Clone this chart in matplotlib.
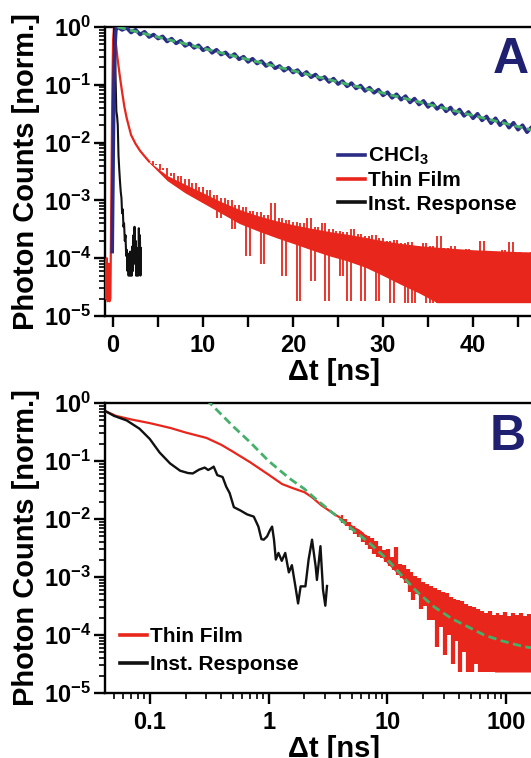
import numpy as np
import matplotlib
matplotlib.use("Agg")
import matplotlib.pyplot as plt
from matplotlib.lines import Line2D
from matplotlib.ticker import FixedLocator, LogLocator, NullFormatter, FuncFormatter

plt.rcParams.update({
    "font.family": ["Liberation Sans", "DejaVu Sans"],
    "font.weight": "bold",
    "mathtext.fontset": "custom",
    "mathtext.rm": "Liberation Sans:bold",
    "mathtext.it": "Liberation Sans:bold",
    "mathtext.bf": "Liberation Sans:bold",
    "mathtext.sf": "Liberation Sans:bold",
    "mathtext.default": "bf",
    "axes.linewidth": 1.7,
})

# ---------------- Panel A data (linear time axis, ns) ----------------
# CHCl3 solution: rise then noisy mono-exponential decay (0.5 ns sampling)
chcl3_rise_t = [-0.1, 0.0, 0.1, 0.2, 0.3, 0.4]
chcl3_rise_y = [1.3e-4, 5e-3, 0.1, 0.45, 0.85, 0.98]
chcl3_tail_t = np.arange(0.5, 50.01, 0.5)
chcl3_tail_y = [
    1.00, 0.89, 0.97, 0.80, 0.90, 0.74, 0.83, 0.67, 0.74, 0.63,
    0.69, 0.56, 0.63, 0.52, 0.58, 0.47, 0.52, 0.435, 0.484, 0.394,
    0.439, 0.357, 0.405, 0.333, 0.364, 0.302, 0.341, 0.276, 0.307, 0.249,
    0.283, 0.233, 0.257, 0.211, 0.239, 0.193, 0.212, 0.175, 0.198, 0.163,
    0.180, 0.146, 0.167, 0.135, 0.151, 0.123, 0.137, 0.112, 0.128, 0.103,
    0.116, 0.094, 0.107, 0.0865, 0.0972, 0.0783, 0.0894, 0.0727, 0.0825, 0.0655,
    0.0745, 0.0594, 0.0687, 0.0552, 0.0638, 0.0495, 0.0578, 0.0455, 0.0528, 0.0414,
    0.0480, 0.0382, 0.0444, 0.0347, 0.0405, 0.0313, 0.0374, 0.0290, 0.0339, 0.0263,
    0.0316, 0.0242, 0.0284, 0.0216, 0.0264, 0.0200, 0.0239, 0.0181, 0.0221, 0.0167,
    0.0200, 0.0151, 0.0185, 0.0141, 0.0169, 0.0127, 0.0153, 0.0116, 0.0141, 0.0108,
]
# mono-exponential fit (green dashed)
fitA_t = [0.5, 10, 20, 30, 40, 50]
fitA_y = [1.0, 0.428, 0.175, 0.072, 0.0295, 0.0121]

# Thin film: pre-rise background, rise and fast decay
filmA_head_t = [-0.9, -0.8, -0.7, -0.6, -0.5, -0.4, -0.3, -0.2, -0.1, 0.0, 0.1, 0.2,
                0.35, 0.5, 0.75, 1.0, 1.25, 1.5, 1.75, 2.0, 2.5, 3.0, 3.5, 4.0]
filmA_head_y = [9e-5, 2e-5, 1e-4, 1.8e-5, 8e-5, 1.8e-5, 2e-5, 1e-3, 0.05, 0.6, 1.0, 0.75,
                0.45, 0.28, 0.14, 0.075, 0.042, 0.027, 0.019, 0.0135, 0.0095, 0.0072, 0.0058, 0.0047]
# noisy tail (0.4 ns sampling)
filmA_tail_t = np.arange(4.0, 50.01, 0.4)
filmA_tail_y = [
    4.9e-3, 4.1e-3, 4.3e-3, 3.3e-3, 3.6e-3, 2.6e-3, 3.0e-3, 2.1e-3, 2.6e-3, 1.7e-3,
    2.3e-3, 1.4e-3, 2.0e-3, 1.1e-3, 1.7e-3, 9e-4, 1.5e-3, 8e-4, 1.25e-3, 5e-4,
    1.1e-3, 6.3e-4, 1.0e-3, 3.2e-4, 8.3e-4, 4.5e-4, 7.6e-4, 1.1e-4, 6.6e-4, 3.5e-4,
    6.3e-4, 8e-5, 5.6e-4, 2.8e-4, 9e-4, 2.5e-4, 5e-4, 5e-5, 4.5e-4, 2.2e-4,
    4.2e-4, 1.8e-5, 4e-4, 1.8e-4, 5e-4, 4e-5, 3.5e-4, 1.6e-4, 4e-4, 1.8e-5,
    3.2e-4, 1.4e-4, 3e-4, 5e-5, 2.8e-4, 1.8e-5, 3.2e-4, 1.1e-4, 2.6e-4, 1.8e-5,
    2.4e-4, 8e-5, 2.5e-4, 1.8e-5, 2.2e-4, 6.3e-5, 2e-4, 1.7e-5, 2.1e-4, 4e-5,
    1.8e-4, 1.7e-5, 1.9e-4, 1.7e-5, 1.65e-4, 3.2e-5, 1.8e-4, 1.7e-5, 1.6e-4, 1.7e-5,
    2.4e-4, 1.7e-5, 1.5e-4, 2.5e-5, 1.6e-4, 1.7e-5, 1.4e-4, 1.7e-5, 1.45e-4, 1.7e-5,
    1.3e-4, 1.7e-5, 2e-4, 1.7e-5, 1.3e-4, 1.7e-5, 1.26e-4, 1.7e-5, 1.4e-4, 1.7e-5,
    1.9e-4, 1.7e-5, 1.26e-4, 1.7e-5, 1.2e-4, 1.7e-5, 1.3e-4, 1.7e-5, 1.2e-4, 1.7e-5,
    1.26e-4, 1.7e-5, 1.18e-4, 1.7e-5, 1.26e-4, 1.7e-5,
]
# dense core of the noise band
filmA_core_t = [4, 6, 8, 10, 12, 14, 16, 18, 20, 22, 24, 26, 28, 30, 32, 34, 36, 40, 45, 50]
filmA_core_hi = [4.7e-3, 2.7e-3, 1.9e-3, 1.35e-3, 9.5e-4, 7.0e-4, 5.5e-4, 4.5e-4, 3.8e-4, 3.3e-4,
                 2.9e-4, 2.6e-4, 2.3e-4, 2.0e-4, 1.8e-4, 1.65e-4, 1.55e-4, 1.4e-4, 1.3e-4, 1.25e-4]
filmA_core_lo = [4.5e-3, 2.2e-3, 1.35e-3, 9e-4, 6.0e-4, 4.0e-4, 3.0e-4, 2.3e-4, 1.8e-4, 1.4e-4,
                 1.1e-4, 9e-5, 7e-5, 5e-5, 3.5e-5, 2.5e-5, 1.7e-5, 1.7e-5, 1.7e-5, 1.7e-5]

# Instrument response (panel A)
irfA_t = [-0.05, 0.05, 0.12, 0.2, 0.28, 0.36, 0.45, 0.52, 0.6, 0.68, 0.76, 0.85, 0.93, 1.0,
          1.08, 1.15, 1.22, 1.3, 1.38, 1.45, 1.52, 1.6, 1.66, 1.72, 1.78, 1.84, 1.9, 1.96,
          2.02, 2.08, 2.14, 2.2, 2.26, 2.32, 2.38, 2.44, 2.5, 2.56, 2.62, 2.68, 2.74, 2.8,
          2.86, 2.92, 2.98, 3.04, 3.1]
irfA_y = [1.5e-4, 0.05, 1.0, 0.45, 0.12, 0.035, 0.028, 0.02, 6e-3, 3.5e-3, 2.2e-3, 1.4e-3, 1.1e-3, 6e-4,
          7e-4, 3.5e-4, 4e-4, 2e-4, 2.5e-4, 1.1e-4, 1.4e-4, 6e-5, 1.2e-4, 5e-5, 1.0e-4, 5e-5, 1.3e-4, 5e-5,
          1.1e-4, 5e-5, 1.6e-4, 6e-5, 2.5e-4, 8e-5, 3.5e-4, 1.0e-4, 2e-4, 5e-5, 1.2e-4, 5e-5, 1.5e-4, 5e-5,
          3.3e-4, 6e-5, 2.5e-4, 5e-5, 1.5e-4]

# ---------------- Panel B data (log time axis, ns) ----------------
filmB_head_t = [0.042, 0.052, 0.07, 0.1, 0.15, 0.2, 0.3, 0.4, 0.5, 0.7, 1.0, 1.3, 1.6,
                2.0, 2.3, 2.8, 3.5, 4.0]
filmB_head_y = [0.73, 0.60, 0.52, 0.45, 0.37, 0.31, 0.25, 0.19, 0.145, 0.095, 0.058, 0.04, 0.034,
                0.029, 0.024, 0.017, 0.0125, 0.0105]
filmB_tail_t = np.geomspace(4.0, 170.0, 100)
filmB_tail_y = [
    1.15e-2, 8.7e-3, 1.0e-2, 7.6e-3, 8.9e-3, 6.5e-3, 7.6e-3, 5.5e-3, 6.8e-3, 4.8e-3,
    6.0e-3, 4.0e-3, 5.4e-3, 3.5e-3, 5.0e-3, 3.0e-3, 4.7e-3, 2.5e-3, 4.2e-3, 2.2e-3,
    3.4e-3, 2.1e-3, 2.9e-3, 1.8e-3, 3.0e-3, 1.55e-3, 2.2e-3, 1.3e-3, 3.3e-3, 1.1e-3,
    1.7e-3, 9.5e-4, 1.6e-3, 7.9e-4, 1.4e-3, 5.6e-4, 1.2e-3, 4.0e-4, 1.05e-3, 5.0e-4,
    9.5e-4, 2.8e-4, 8.3e-4, 3.2e-4, 7.6e-4, 1.8e-4, 6.9e-4, 1.8e-4, 6.5e-4, 6.3e-5,
    6.0e-4, 1.4e-4, 5.6e-4, 4.5e-5, 5.2e-4, 1.0e-4, 4.6e-4, 3.2e-5, 4.2e-4, 7.9e-5,
    4.0e-4, 2.3e-5, 3.8e-4, 5.0e-5, 3.4e-4, 2.3e-5, 3.2e-4, 2.3e-5, 3.1e-4, 3.2e-5,
    2.8e-4, 2.3e-5, 2.6e-4, 2.3e-5, 2.4e-4, 2.3e-5, 2.6e-4, 2.3e-5, 2.2e-4, 2.3e-5,
    2.4e-4, 2.3e-5, 2.2e-4, 2.3e-5, 2.5e-4, 2.3e-5, 2.1e-4, 2.3e-5, 2.4e-4, 2.3e-5,
    2.2e-4, 2.3e-5, 2.4e-4, 2.3e-5, 2.1e-4, 2.3e-5, 2.3e-4, 2.3e-5, 2.2e-4, 2.3e-5,
]
filmB_core_t = [4, 6, 8, 10, 13, 18, 25, 35, 50, 65, 80, 120, 170]
filmB_core_hi = [1.05e-2, 6.3e-3, 3.7e-3, 2.4e-3, 1.5e-3, 8.0e-4, 4.5e-4, 3.2e-4, 2.6e-4,
                 2.3e-4, 2.2e-4, 2.1e-4, 2.1e-4]
filmB_core_lo = [9.5e-3, 5.5e-3, 3.0e-3, 1.7e-3, 1.0e-3, 5.0e-4, 2.5e-4, 1.5e-4, 8e-5,
                 4e-5, 2.3e-5, 2.3e-5, 2.3e-5]
# multi-component fit (green dashed)
fitB_t = [0.3, 0.5, 0.7, 1.0, 1.5, 2.0, 2.5, 3.5, 5, 7, 10, 13, 17.8, 25, 35, 47, 65, 90, 140, 300]
fitB_y = [1.15, 0.40, 0.21, 0.10, 0.05, 0.033, 0.022, 0.0125, 6.8e-3, 3.9e-3, 2.0e-3, 1.1e-3,
          5.5e-4, 3.0e-4, 1.9e-4, 1.4e-4, 1.0e-4, 8e-5, 6.3e-5, 5e-5]
# Instrument response (panel B)
irfB_t = [0.042, 0.05, 0.064, 0.082, 0.1, 0.121, 0.148, 0.18, 0.21, 0.23, 0.26, 0.29, 0.31, 0.33,
          0.345, 0.37, 0.41, 0.44, 0.47, 0.51, 0.58, 0.66, 0.75, 0.82, 0.87, 0.91, 0.97, 1.03,
          1.07, 1.11, 1.15, 1.21, 1.29, 1.38, 1.48, 1.57, 1.68, 1.77, 1.86, 2.04, 2.17, 2.32,
          2.49, 2.55, 2.73, 2.87, 3.0, 3.1]
irfB_y = [0.73, 0.6, 0.5, 0.36, 0.24, 0.14, 0.091, 0.068, 0.062, 0.061, 0.071, 0.077, 0.07, 0.075,
          0.08, 0.057, 0.053, 0.036, 0.028, 0.016, 0.014, 0.012, 0.011, 0.0074, 0.0045, 0.0044, 0.005, 0.0065,
          0.0074, 0.0044, 0.002, 0.0026, 0.0019, 0.0026, 0.0012, 0.0016, 0.00069, 0.00035, 0.00069, 0.00069,
          0.002, 0.0044, 0.0015, 0.00089, 0.0034, 0.0006, 0.00032, 0.0007]

legendA_labels = ["CHCl$_3$", "Thin Film", "Inst. Response"]
legendB_labels = ["Thin Film", "Inst. Response"]
xlabel = "\u0394t [ns]"
ylabel = "Photon Counts [norm.]"

# ---------------- styling ----------------
BLUE = "#2b2c86"
RED = "#e8261c"
BLACK = "#111111"
GREEN = "#45b06a"
NAVY = "#1f2170"

W, H = 531, 758
fig = plt.figure(figsize=(W / 100, H / 100), dpi=100)
axA = fig.add_axes([105 / W, 1 - 316 / H, 458 / W, 289 / H])
axB = fig.add_axes([105 / W, 1 - 693 / H, 458 / W, 290 / H])


def sci(v, pos):
    e = int(round(np.log10(v)))
    return r"$\mathdefault{10^{%d}}$" % e


def noisy(ax, t, y, **kw):
    """Draw a noisy photon-count trace as vertical jumps between consecutive samples."""
    t = np.asarray(t, dtype=float)
    y = np.asarray(y, dtype=float)
    ax.vlines(t[1:], y[:-1], y[1:], **kw)


for ax in (axA, axB):
    ax.set_yscale("log")
    ax.set_ylim(1e-5, 1)
    ax.yaxis.set_major_locator(FixedLocator([1e-5, 1e-4, 1e-3, 1e-2, 1e-1, 1]))
    ax.yaxis.set_major_formatter(FuncFormatter(sci))
    ax.yaxis.set_minor_locator(LogLocator(base=10, subs=np.arange(2, 10), numticks=20))
    ax.yaxis.set_minor_formatter(NullFormatter())
    ax.tick_params(which="major", direction="out", length=8, width=1.7, labelsize=17,
                   top=False, right=False)
    ax.tick_params(which="minor", direction="out", length=4.5, width=1.2, top=False, right=False)
    ax.tick_params(axis="x", which="major", pad=5)
    ax.tick_params(axis="y", which="major", pad=2)
    ax.set_ylabel(ylabel, fontsize=21, fontweight="bold")
    ax.yaxis.set_label_coords(-0.143, 0.5)
    ax.set_xlabel(xlabel, fontsize=21, fontweight="bold", labelpad=1)

# ---- Panel A ----
axA.set_xlim(-0.9, 50)
axA.xaxis.set_major_locator(FixedLocator([0, 10, 20, 30, 40]))
axA.xaxis.set_minor_locator(FixedLocator([5, 15, 25, 35, 45]))
axA.tick_params(axis="x", which="minor", length=8, width=1.7)

axA.fill_between(filmA_core_t, filmA_core_lo, filmA_core_hi, color=RED, lw=0, zorder=2)
noisy(axA, filmA_tail_t, filmA_tail_y, color=RED, lw=1.3, zorder=2)
axA.plot(filmA_head_t, filmA_head_y, color=RED, lw=1.6, zorder=3)
axA.plot(irfA_t, irfA_y, color=BLACK, lw=1.5, zorder=4)
axA.plot(chcl3_rise_t + list(chcl3_tail_t), chcl3_rise_y + chcl3_tail_y, color=BLUE, lw=2.6, zorder=5)
axA.plot(fitA_t, fitA_y, color=GREEN, lw=2.0, ls=(0, (3, 1.6)), zorder=6)

handlesA = [Line2D([], [], color=BLUE, lw=2.6), Line2D([], [], color=RED, lw=2.6),
            Line2D([], [], color=BLACK, lw=2.6)]
axA.legend(handlesA, legendA_labels, loc="upper left",
           bbox_to_anchor=(338 / W, 1 - 145 / H), bbox_transform=fig.transFigure,
           frameon=False, fontsize=15, handlelength=1.3, handletextpad=0.15,
           labelspacing=0.2, borderpad=0, borderaxespad=0)

# ---- Panel B ----
axB.set_xscale("log")
axB.set_xlim(0.042, 300)
axB.xaxis.set_major_locator(FixedLocator([0.1, 1, 10, 100]))
axB.xaxis.set_major_formatter(FuncFormatter(lambda v, p: ("%g" % v)))
axB.xaxis.set_minor_locator(LogLocator(base=10, subs=np.arange(2, 10), numticks=20))
axB.xaxis.set_minor_formatter(NullFormatter())

axB.fill_between(filmB_core_t, filmB_core_lo, filmB_core_hi, color=RED, lw=0, zorder=2)
noisy(axB, filmB_tail_t, filmB_tail_y, color=RED, lw=1.6, zorder=2)
axB.plot(filmB_head_t, filmB_head_y, color=RED, lw=1.6, zorder=3)
axB.plot(irfB_t, irfB_y, color=BLACK, lw=1.7, zorder=4)
axB.plot(fitB_t, fitB_y, color=GREEN, lw=2.0, ls=(0, (3, 1.6)), zorder=6)

handlesB = [Line2D([], [], color=RED, lw=2.6), Line2D([], [], color=BLACK, lw=2.6)]
axB.legend(handlesB, legendB_labels, loc="upper left",
           bbox_to_anchor=(120 / W, 1 - 627 / H), bbox_transform=fig.transFigure,
           frameon=False, fontsize=15, handlelength=1.3, handletextpad=0.15,
           labelspacing=0.45, borderpad=0, borderaxespad=0)

fig.text(493 / W, 1 - 73 / H, "A", fontsize=36, fontweight="bold", color=NAVY,
         ha="left", va="baseline")
fig.text(490 / W, 1 - 450 / H, "B", fontsize=36, fontweight="bold", color=NAVY,
         ha="left", va="baseline")

fig.savefig("out.png", dpi=100)
